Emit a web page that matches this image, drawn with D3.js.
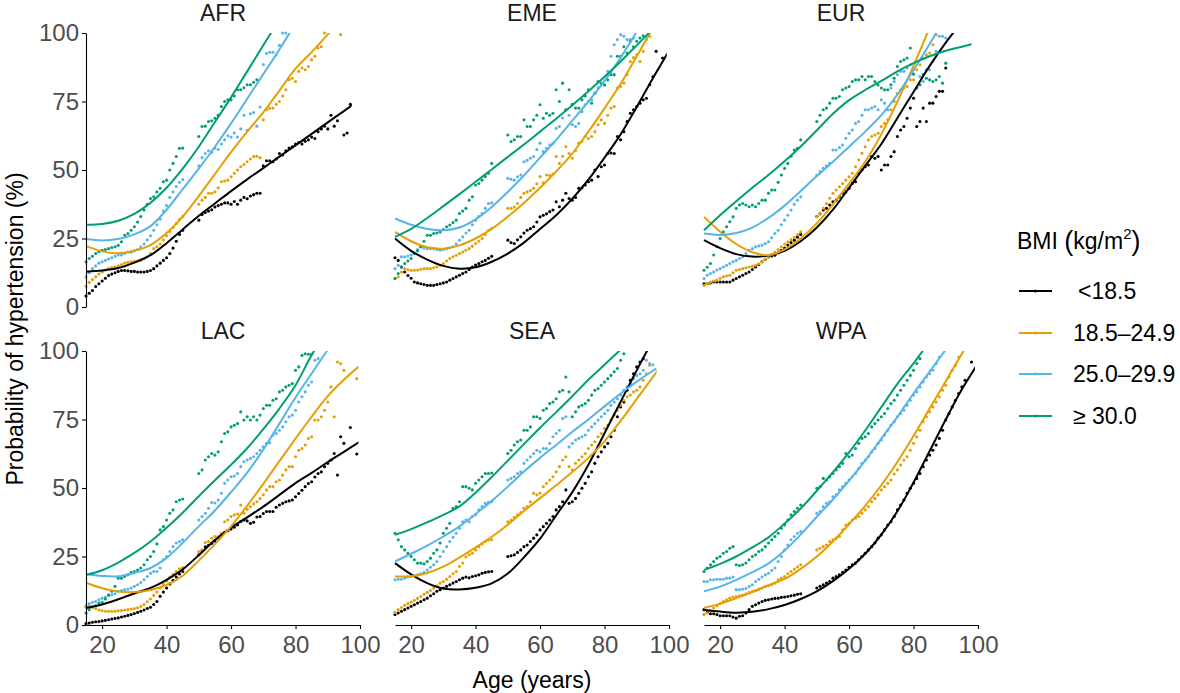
<!DOCTYPE html>
<html><head><meta charset="utf-8">
<script src="https://cdn.jsdelivr.net/npm/d3@7"></script>
<style>
body{margin:0;background:#fff}
svg text{font-family:"Liberation Sans",Arial,Helvetica,sans-serif}
</style>
</head><body>
<svg id="chart" width="1180" height="693"></svg>
<script>
const N = null;
const regions = ["AFR","EME","EUR","LAC","SEA","WPA"];
const bmiGroups = ["<18.5","18.5\u201324.9","25.0\u201329.9","\u2265 30.0"];
const colors = ["#000000","#E69F00","#56B4E9","#009E73"];
const yTicks = [0,25,50,75,100];
const xTicks = [20,40,60,80,100];
const ages = d3.range(15,100);          // dot ages 15..99
const fitAges = d3.range(15,101,5);     // fitted-curve knots

// ---------- AFR ----------
const afrDots0 = [4,5,6,7.5,8.5,9.5,10.5,11.5,12,12.5, 13,13.3,13.3,13.2,13,13,12.8,12.8,12.8,13, 13.3,14,15,16,17,18,19.5,21.5,24,26.5, 28,
 N,N,N,N,
 31.7,33.8,34.5,35,35.5,36.5,37,37.5,38,38, 37.5,38.5,37.5,39,40,39.5,40.5,41,41.5,41.5, 51.5,53.4,53.4,53,54,56,55.5,57,58,58.5, 59.5,60,59.5,60.5,61,62,61.5,64,65,66, 65,70,66,68,N,62.8,63.5,74,N,N];
const afrDots1 = [7.6,9,10,11,12,12.8,13.5,14,14.4,14.6, 15,15.5,16,16.3,16.5,16.7,16.8,17,17.5,18.3, 19.5,21.3,22,23,24.5,26,27.5,29,30.5,32, 33,
 N,N,N,N,
 37.5,39,40,41.5,41.5,42,43.5,45.7,46,46.3, 47.5,48.8,50,51.2,52,53,54,54.9,55,54.5, 68.3,72,72.5,72.6,74,75,77,79.3,83,83.5, 82.3,86,87.2,86.6,87.8,90.2,91.5,94.5,95,100, N,N,N,N,99.4,N,N,N,N,N];
const afrDots2 = [11,12.5,14,15,16,16.5,17,17.5,18,18.5, 19,19,19.5,20,20,20.5,21,22,23,24.5, 26,28,30,32,35,37,40,42,44,45.5, 46.5,
 N,N,N,N,
 51.5,54.5,56,57,56.5,58,57.5,59.5,61,62.5, 62,63.5,62,65,70,64.5,70.5,71,66,73, 88.5,92.5,93,93,92,95.5,100,100,N,N, N,N,N,N,N,N,N,N,N,N, N,N,N,N,N,N,N,N,N,N];
const afrDots3 = [16.5,17.7,18.5,19.5,20.2,20.7,21,21.3,21.7,22, 22.5,23.8,26.2,26.8,28,29.3,31,33,35.4,37.5, 39.6,40.2,42,43.3,45.7,46.3,50,52.4,54.9,57.9, 58,
 N,N,N,N,
 62.2,65.9,66,67.7,68,68.9,70,73.2,75,75.6, 75.6,77,79.3,79.3,80,81.1,81.1,82,82.9,N, N,N,N,N,N,N,N,N,N,N, N,N,N,N,N,N,N,N,N,N, N,N,N,N,N,N,N,N,N,N];
const afrFit0 = [12.9,13.3,14.2,16.2,18.9,23.3,28.3,33.3,37.8,42.3,46.6,50.7,54.9,59,63.2,67.4,71.5,75.7];
const afrFit1 = [22.2,20.3,19.6,20.5,22.6,27,33,40.5,48.5,56.5,64,71,79,87,93,99.5,106,N];
const afrFit2 = [24.8,24.3,24.8,26.5,29.5,35.5,43,50.5,58.5,67,76,85,94,103.5,N,N,N,N];
const afrFit3 = [30,30.3,31.5,34,38,43.5,50.5,58.5,67.5,76.5,86,95.5,105,N,N,N,N,N];
const afrFitEnd = [97.4,100,100,100];

// ---------- EME ----------
const emeDots0 = [18,17,14.6,12.8,11.5,10.5,9.1,8.8,8.5,8.2, 7.9,7.9,7.9,8.2,8.5,8.8,9.1,9.8,10.4,11, 11.6,12.2,12.8,13.7,14.6,15.3,15.9,16.5,17,17.8, 18.5,
 N,N,N,N,
 24.4,23.5,23.2,24.5,25.6,27,28,28.6,29.3,31, 32.9,33.5,34,34.8,35.4,38.4,36.6,39,41.5,39.6, 39,40,43.3,43.5,44.5,45.7,46.3,50,47.6,51.2, 51.8,56,56.2,56,62.2,61,64,67.7,70.7,72, 73.2,74.4,75.6,76.2,81.1,84,93.3,N,90.9,N];
const emeDots1 = [10.5,11,12.8,14,13.6,13.4,13.4,13.5,13.8,14, 14,14,14.3,14.6,15.2,15.9,16.8,17.7,18.3,18.9, 19.5,20.1,20.7,21.3,22.2,23.2,24,25,26.5,28, 28.7,
 N,N,N,N,
 36,36,36.5,37.8,40,41.5,42,42.5,43.3,45, 47.6,45.3,48.2,48,48.5,54.9,52.4,55,58.5,56, 54.3,57,59.8,60.5,62.2,61.5,62.2,64,66.5,68.3, 67,70,72.6,73.2,79.9,80.5,81.7,84.8,89.6,91, 92,89.6,93.3,97.6,98.8,N,N,N,N,N];
const emeDots2 = [14,15.2,18.3,18.3,18.6,19,19.5,21,22,21.5, 21.3,21.3,21.3,21,20.7,21,21.3,21.6,22,23, 24.4,25.6,27,28,30,31.7,33,34.1,36,37.8, 38,
 N,N,N,N,
 47,46.6,46.3,47.5,48.2,53,53.5,54.3,54.9,57.5, 59.8,56.7,57.9,59.1,59.8,65.2,65.9,69,72,70, 66.5,65.9,67,71.3,73.8,75,75.6,78,80,81.7, 81,86,91.5,95.7,97.6,99.4,98.8,97.6,97.6,98.2, N,N,N,N,N,N,N,N,N,N];
const emeDots3 = [10.4,12.2,14.6,15.9,16.8,17.7,19.5,20.5,22,24, 26.2,26.2,26.8,27,27.4,28.3,29.3,29.9,30.8,31.7, 34.1,35,36,39,40.2,44.5,45.1,46.3,47.6,48.8, 52.4,
 N,N,N,N,
 62.8,60.4,61,62.2,62.2,68.3,65.9,65.9,68.3,70, 73.8,68.9,70.7,70,70.7,79.3,75,81.7,72,79.3, 74,72.6,72.6,75.6,77,79.3,74.4,78,82.3,81.5, 81,82.9,84.8,84.8,91.5,91.5,95,92.7,97,95, 97,98.2,99,N,N,N,N,N,N,N];
const emeFit0 = [25,20.5,17.3,15,14,14.5,16.5,19.5,23.5,28.5,33.5,39.5,46.5,54.5,63,73,83.5,93.5];
const emeFit1 = [27.4,24,21.8,21.3,22.5,25,28.5,33,38,43.5,49.5,56,64,72.5,81.5,91.5,102,N];
const emeFit2 = [32.3,30,28.5,28,29,32,36.5,42,48,54.5,61,68,75,82.5,91,100.5,N,N];
const emeFit3 = [25.6,28.5,32.5,36.8,41.2,45.7,50.2,54.8,59.3,64,68.7,73.6,78.7,84,89.6,95.5,101.5,N];
const emeFitEnd = [99.3,100,100,100];

// ---------- EUR ----------
const eurDots0 = [8.5,8.5,8.8,9.1,9.1,9.1,9.1,9.1,9.1,9.8, 10.4,11,11.6,12.2,12.8,13.7,14.6,15.5,16.5,17.4, 18.3,18.6,18.9,19.8,20.7,21.5,22.6,23.5,24.4,25.5, 26.5,
 N,N,N,N,
 33,34,35.4,36,37.2,38.4,39,40.2,41.5,42, 43.3,45.1,45.7,48.8,50,51.2,51.8,54.9,54.3,54.9, 50,51.8,51.8,54.9,56.7,62.2,64.6,65.9,68.9,72.6, 76.2,65.9,67.7,72.6,67.7,74.4,74.4,76.8,78.7,78.7, 87.2,N,N,N,N,N,N,N,N,N];
const eurDots1 = [7.9,8.5,9,9.5,9.8,10.5,11,11.3,11.6,12.5, 13.4,13.7,14,14.3,14.6,14.9,15.2,15.8,16.5,17.4, 18.3,19.2,20.1,21,22,23,23.8,24.6,25.4,26.4, 27.4,
 N,N,N,N,
 33,34,36,37.8,39.7,41.5,42.7,43.9,45.1,46.3, 47.5,48.8,51.2,53.7,56.1,58.5,61,62.2,62.8,63.4, 65.9,67,68.3,72,75,78,79.3,80,80.5,82.9, 82.9,86.6,88.4,90.9,92,92.7,95.7,99.4,N,N, N,N,N,N,N,N,N,N,N,N];
const eurDots2 = [10.4,11.6,12.2,12.8,13.5,14,14.6,15.2,15.9,16.5, 17,17.7,18.3,19.5,20.7,21.3,22,22.3,22.6,23.2, 23.8,25.3,26.8,28,30,31.7,33.5,35.4,37.5,39, 40.2,
 N,N,N,N,
 48.2,49.4,50.6,51.5,52.4,57.3,57.3,58.2,59.1,61.6, 63.4,64.6,67,67.7,70,72,72,72.6,73.2,72, 75.6,74.4,72,79.9,82.3,84.8,86,86,87.2,88.4, 85,79.9,84.1,82.3,86.6,86.6,89.6,93.3,98.8,98.8, 98.2,N,N,N,N,N,N,N,N,N];
const eurDots3 = [13.4,14.5,15.9,19,22,25,27.4,29.3,31.1,32.9, 36,37.2,37.8,37.2,36.6,37.2,36.6,37.8,39,39, 41.5,42.7,42.7,45.5,48.2,50.6,52.4,55,57.3,57.9, 61,
 N,N,N,N,
 67.7,70,72,72.6,74.4,76.2,76.2,76.8,79.3,79.9, 80.5,82.3,82.9,82.9,84.1,82.9,84.1,84.1,82.3,81, 79.9,79.3,79.3,81.1,83.5,87.8,89.6,90.2,90.9,94.5, 85,79.9,81.1,84.8,83.5,82.9,82.3,82.9,84.1,81.7, 89,N,N,N,N,N,N,N,N,N];
const eurFit0 = [24.4,21.5,19.3,18.4,18.8,20.5,24,29,35.5,43.5,51.5,59.5,69,78.5,88,96.5,104,N];
const eurFit1 = [32.9,27.5,23,20,18.9,21,25,30.5,37.5,45,53,63,75,88,102,N,N,N];
const eurFit2 = [26.8,26.3,27,29,32.5,37,42.3,47.8,53,58.5,64,70,77.5,86.5,96,106,N,N];
const eurFit3 = [28,33.5,38.6,43.5,48.2,53.2,58.6,64.5,70.5,75.5,79.2,82.5,86,89,91.5,93.5,95,96.5];
const eurFitEnd = [100,100,100,98];

// ---------- LAC ----------
const lacDots0 = [0.5,0.7,1,1.2,1.3,1.5,1.7,1.9,2.2,2.4, 2.6,2.9,3.2,3.5,3.8,4.2,4.6,5,5.5,6, 6.5,7.5,8.6,10.5,12,13.5,15,16.3,17.5,18.6, 19.5,
 N,N,N,N,
 25.6,27.2,28.5,29.1,29.8,30.7,31.8,32.9,33.8,34.4, 35,35.7,36.5,37.8,38.3,38,37.1,37.5,39.4,39.6, 40.7,41.4,41.4,41.4,43,43.8,44.4,45,45.3,45.6, 46.8,48,49.2,50.5,51.6,52.3,54,55.3,55.9,57.8, 59,60.2,62.6,54.7,68.7,66.3,N,72.1,N,62.4];
const lacDots1 = [6.5,6.8,6.5,6,5.5,5.2,5,5,5,5, 5.2,5.3,5.5,5.6,5.8,6,6.3,6.8,7.5,8.5, 9.5,10.8,12,13.5,15,16,17.5,18.5,19.5,20.5, 21,
 N,N,N,N,
 26.8,27.4,30.1,30.5,31.7,32.3,32.3,33.5,37.7,38.3, 39.6,40.2,40.5,43.8,40.8,42.2,43.2,44.2,45,46.2, 47.5,49.3,50.5,50.5,52.3,52.9,54.7,56.6,57.8,57.8, 61.4,63.8,64.4,65.7,68.1,68.7,74.8,74.8,76,78.4, 81.4,86.9,76,96,95.4,93,N,N,N,89.9];
const lacDots2 = [7,7.8,8.3,8.6,9.2,9.8,10.2,10.7,11,11.4, 12.3,12.6,12.9,13.1,13.5,14.1,14.7,15.5,16.5,17.7, 18.9,19.5,19.5,20.8,23.8,25,26.8,28.6,29.9,30.5, 31.1,
 N,N,N,N,
 38.3,39.6,40.8,42.6,44.7,44.5,45.6,48.1,51.7,52.9, 54.1,54.4,55.3,57.8,59.6,60.2,60.8,61.4,62.6,63.8, 65,66.3,66.5,69.3,69.9,71.1,72.3,74.2,76,76.6, 78.4,81.4,83.3,85.1,87.5,88.7,96.6,97.2,N,N, N,N,N,N,N,N,N,N,N,N];
const lacDots3 = [4.4,5.6,6.6,7,8,8.3,9.5,11,12.3,14.1, 17.1,17.1,17.7,18.3,19.2,19.5,20.1,20.8,22,23.8, 25,26.8,29.6,34.7,35.9,38.3,40.8,42,45,45.6, 46,
 N,N,N,N,
 55.3,56.6,60.2,61.4,62.6,62,63.2,66.9,69.9,70.5, 72.3,72.9,73.5,77.8,74.8,76,74.8,76,74.8,76.6, 79,80.2,80.2,82,82.6,85.1,85.7,86.9,87.5,88.1, 93,94.2,98.4,99,98.8,98.8,N,N,N,N, N,N,N,N,N,N,N,N,N,N];
const lacFit0 = [6.2,7.5,9.4,11.5,13.5,16.5,20.3,25.5,31,35.5,39.3,43.2,47.5,51.8,55.5,59.5,63.2,67];
const lacFit1 = [15.4,13.4,12.2,12,12.8,14.6,18,23.5,29.5,36,43.5,51.5,59.8,68,76,83.5,89.5,94.7];
const lacFit2 = [18.5,17.9,17.8,19,20.8,24.5,30,36,41.8,48.5,55.6,64,73.5,83,91.8,100.5,N,N];
const lacFit3 = [18.3,20,22.8,26.3,30.5,35.5,41,47,52.8,58.5,64.5,71.5,79,87.5,98.5,108,N,N];
const lacFitEnd = [99.5,99.5,100,100];

// ---------- SEA ----------
const seaDots0 = [3.8,4.4,5,5.6,6.2,6.8,7.4,8,8.6,9.2, 9.8,10.7,11.4,12.3,12.9,13.5,14.1,14.7,15.3,15.9, 16.5,17.1,17.5,17.2,17.7,18,18.3,18.9,19.2,19.4, 19.5,
 N,N,N,N,
 25,25.3,25.6,26.5,27.4,28.6,29.2,30.5,31.7,32.9, 34.7,35.9,37.1,38.3,39.6,42,43.2,45,49.3,44.4, 45,46.2,48.1,49.9,51.7,54.1,55.9,59,61.4,63.2, 65,66.3,68.7,71.1,76,79.6,81.4,85.7,89.3,91.7, 94.2,96,97.2,N,N,N,N,N,N,N];
const seaDots1 = [4.6,5.6,6.4,7.2,7.8,8.4,9,9.7,10.4,11.2, 11.9,12.6,13.5,14.3,15.3,15.9,16.7,17.7,18.7,19.5, 21.4,22.6,24.8,25.6,26.2,27.4,28.6,29.6,30.5,31, 31.1,
 N,N,N,N,
 37.7,38.3,39.3,40.2,41,42.6,43.2,45,48.1,47.5, 48.1,50.5,51.7,52.9,54.1,55.9,57.8,60.2,61.4,57.8, 56.6,59,60.2,61.4,62.6,64.4,65.7,66.9,68.7,69.9, 71.7,72.9,74.8,76.6,78.4,80.2,82,83.3,83.9,85.1, 85.7,86.9,89.3,91.7,94.8,N,N,N,N,N];
const seaDots2 = [16.5,16.7,16.7,17.1,17.5,17.7,18,18.3,18.7,19.2, 20.1,21.1,22,23.2,25,26.8,28.6,30.5,32,33.5, 35.3,37.7,38.3,37.7,39.6,40.2,42,43.2,44.4,44.8, 45,
 N,N,N,N,
 52.9,53.5,54.1,55.3,55.9,59,60.2,61.4,62.6,63.8, 63.2,64.4,64.4,66.3,68.7,69.9,71.1,75.4,76,65, 66.3,67.5,68.1,68.7,69.3,71.1,72.3,73.5,74.8,76, 77.2,78.4,80.2,81.4,82.6,83.9,85.7,86.9,88.1,89.9, 91.1,91.7,93,96.6,95.4,95,N,N,N,N];
const seaDots3 = [33.5,31.1,28.6,27.4,26.2,25,23.8,22.6,22.6,22.3, 23.2,24.4,26.2,27.4,29.9,33.5,35.3,37.1,42.6,43.2, 45,50.5,50.5,49.9,49.3,51.7,52.9,54.1,55.3,55.3, 55.5,
 N,N,N,N,
 62.6,63.8,65.7,66.9,67.5,71.1,71.1,72.3,76,76, 75.4,78.4,79,80.8,81.4,82.6,85.1,85.7,90.5,85.1, 76,77.8,79.6,80.2,80.8,82,83.9,85.7,86.3,87.5, 88.7,89.9,91.1,92.4,93.6,96.6,99,N,N,N, N,N,N,N,N,N,N,N,N,N];
const seaFit0 = [22.6,18.5,15.3,13.3,13,13.6,15.2,18.8,24.7,31.5,40,48.5,58.5,70,81.5,93,104,N];
const seaFit1 = [17.7,17.8,19,21.3,24.6,28.3,32.2,36.6,41.6,46.3,51,55.8,61,67,74.5,82.5,90.5,98.5];
const seaFit2 = [23.2,26,29,32.3,36,40.5,45.3,50.5,56,61,65.7,70.5,75,79.8,84.5,88.8,92.8,96.5];
const seaFit3 = [32.9,35,37.5,40.2,43.3,48.3,54,60,66,72,77.7,83.5,89.5,95,100.5,N,N,N];
const seaFitEnd = [100,96.2,96.1,100];

// ---------- WPA ----------
const wpaDots0 = [5.6,4.6,4.1,4.1,3.8,3.4,3.4,3.4,3.4,2.9, 2.5,3.2,3.4,4.4,5.6,6.8,7.4,8,8.6,9, 9.2,9.5,9.7,9.8,10.1,10.2,10.4,10.7,10.9,11.2, 11.4,
 N,N,N,N,
 13.5,14.1,14.7,15.3,15.9,17.1,17.7,18.3,19.2,20.1, 21.1,22,22.6,23.8,25,26.2,27.4,28.6,29.9,31.7, 32.9,34.7,36.5,37.7,39.6,42,43.8,45.6,48.1,49.9, 51.7,53.5,55.3,57.8,60.2,62,63.8,65.7,68.1,71.1, 74.8,77.2,79.6,82,84.5,86.9,89.3,N,96,N];
const wpaDots1 = [3.8,4.4,5.3,6.2,7,7.8,8.6,9.2,9.8,10.2, 10.4,10.7,10.9,11.4,11.9,12.3,12.6,13.1,13.5,14.1, 14.3,14.7,15.3,16.5,17.1,17.7,18.7,19.5,20.4,21.2, 22,
 N,N,N,N,
 27.4,28,28.6,29.2,30.5,31.1,31.7,32.3,34.7,36.5, 37.1,38.3,39,39.6,40.8,42,43.2,45,46.2,47.5, 49.3,50.5,51.7,52.9,55.1,56.6,58.4,60.2,61.4,63.8, 66.3,68.7,71.1,74.2,76,77.8,79.6,81.4,83.3,85.7, 87.5,90.5,93,94.8,97.8,N,N,N,N,N];
const wpaDots2 = [15.9,15.9,16.5,16.5,16.7,16.7,16.7,17.1,17.1,17.5, 12.9,12.9,13.1,13.3,14.1,14.7,15.9,16.7,17.5,18.3, 18.9,19.9,20.8,23.2,25,27.4,29.2,31.1,32.3,33.5, 34.1,
 N,N,N,N,
 40.8,41.4,43.2,44.4,45,46.8,47.5,49.3,50.5,51.7, 52.9,54.1,55.3,57.2,59,60.2,61.4,63.2,64.4,66.3, 67.5,69.3,71.1,72.9,74.2,76,77.2,78.4,80.2,82, 83.9,85.1,86.9,88.7,90.5,91.7,93,95.4,97.8,N, N,N,N,N,N,N,N,N,N,N];
const wpaDots3 = [19.5,20.8,22,23.2,24.4,25,26.2,26.8,28,28.6, 22,21.7,22,22.6,23.8,25,25.6,26.8,27.4,28.6, 29.9,31.1,32.3,33.5,35.3,36.5,38.3,40.2,41.4,42.6, 43.8,
 N,N,N,N,
 49.9,50.5,53.5,52.9,54.1,55.3,56.6,57.8,59,62.6, 61.4,62,64.4,66.3,68.1,68.7,69.9,72.3,73.5,74.8, 76,77.2,79,80.8,82,83.9,85.7,87.5,89.3,91.1, 93,95.4,97.2,N,N,N,N,N,N,N, N,N,N,N,N,N,N,N,N,N];
const wpaFit0 = [5.6,4.9,4.5,4.8,5.8,7.3,9.5,12.3,16,20.5,26,33,41.5,52,63.5,75,86,95.5];
const wpaFit1 = [6.2,7.8,9.8,12,14.5,16.8,20.5,25,30.5,36.8,43.5,51,59.5,69,79,89,99,109];
const wpaFit2 = [12.3,14,16.5,19.3,22.5,27.2,33,39.5,45.8,52.7,60,68,76,84.5,92.5,100.5,N,N];
const wpaFit3 = [20.1,22.3,25,28.3,32,37,42.5,49,55.8,63,71,79.5,88,95.5,103.5,N,N,N];
const wpaFitEnd = [99.1,100,100,100];

const panels = {
  AFR:{dots:[afrDots0,afrDots1,afrDots2,afrDots3], fits:[afrFit0,afrFit1,afrFit2,afrFit3], ends:afrFitEnd},
  EME:{dots:[emeDots0,emeDots1,emeDots2,emeDots3], fits:[emeFit0,emeFit1,emeFit2,emeFit3], ends:emeFitEnd},
  EUR:{dots:[eurDots0,eurDots1,eurDots2,eurDots3], fits:[eurFit0,eurFit1,eurFit2,eurFit3], ends:eurFitEnd},
  LAC:{dots:[lacDots0,lacDots1,lacDots2,lacDots3], fits:[lacFit0,lacFit1,lacFit2,lacFit3], ends:lacFitEnd},
  SEA:{dots:[seaDots0,seaDots1,seaDots2,seaDots3], fits:[seaFit0,seaFit1,seaFit2,seaFit3], ends:seaFitEnd},
  WPA:{dots:[wpaDots0,wpaDots1,wpaDots2,wpaDots3], fits:[wpaFit0,wpaFit1,wpaFit2,wpaFit3], ends:wpaFitEnd}
};

// ---------- layout ----------
const W = 1180, H = 693;
const colX = [86,395,704], rowY = [33,351];
const pw = 274, ph = 274;
const FONT = '"Liberation Sans",Arial,Helvetica,sans-serif';
const x = d3.scaleLinear().domain([15,100]).range([0,pw]);
const y = d3.scaleLinear().domain([0,100]).range([ph,0]);

const svg = d3.select('#chart');
svg.append('rect').attr('width',W).attr('height',H).attr('fill','#fff');
const defs = svg.append('defs');

const line = d3.line().defined(d=>d[1]!=null).x(d=>x(d[0])).y(d=>y(d[1])).curve(d3.curveCatmullRom.alpha(0.5));

regions.forEach((reg,i)=>{
  const col = i%3, row = Math.floor(i/3);
  const g = svg.append('g').attr('transform',`translate(${colX[col]},${rowY[row]})`);
  const pd = panels[reg];

  g.append('text').attr('x',pw/2).attr('y',-12).attr('text-anchor','middle')
    .attr('font-size',23).attr('fill','#1a1a1a').text(reg);

  // points
  pd.dots.forEach((arr,k)=>{
    const pts = arr.map((v,j)=>({age:ages[j], v})).filter(d=>d.v!=null && d.v<=100);
    g.append('g').selectAll('circle').data(pts).join('circle')
      .attr('cx',d=>x(d.age)).attr('cy',d=>y(d.v)).attr('r',1.55).attr('fill',colors[k]);
  });

  // fitted curves (clip in the group's local coordinates)
  pd.fits.forEach((arr,k)=>{
    const id = `clip-${i}-${k}`;
    defs.append('clipPath').attr('id',id).append('rect')
      .attr('x',-2).attr('y',0).attr('width',x(pd.ends[k])+2).attr('height',ph);
    const pts = arr.map((v,j)=>[fitAges[j],v]).filter(d=>d[1]!=null);
    g.append('g').attr('clip-path',`url(#${id})`).append('path')
      .attr('d',line(pts)).attr('fill','none').attr('stroke',colors[k]).attr('stroke-width',2);
  });

  if(col===0){
    const ay = g.append('g').call(d3.axisLeft(y).tickValues(yTicks).tickSize(4).tickSizeOuter(0).tickPadding(3));
    ay.attr('font-size',24).attr('font-family',FONT);
    ay.selectAll('text').attr('fill','#4d4d4d');
    ay.selectAll('path,line').attr('stroke','#000').attr('stroke-width',1.1);
  }
  if(row===1){
    const ax = g.append('g').attr('transform',`translate(0,${ph})`)
      .call(d3.axisBottom(x).tickValues(xTicks).tickSize(4).tickSizeOuter(0).tickPadding(7));
    ax.attr('font-size',24).attr('font-family',FONT);
    ax.selectAll('text').attr('fill','#4d4d4d');
    ax.selectAll('path,line').attr('stroke','#000').attr('stroke-width',1.1);
  }
});

// axis titles
svg.append('text').attr('transform','translate(23,329) rotate(-90)').attr('text-anchor','middle')
  .attr('font-size',23).attr('fill','#000').text('Probability of hypertension (%)');
svg.append('text').attr('x',532).attr('y',688).attr('text-anchor','middle')
  .attr('font-size',23).attr('fill','#000').text('Age (years)');

// legend
const lg = svg.append('g');
const lt = lg.append('text').attr('x',1017).attr('y',249).attr('font-size',23).attr('fill','#000');
lt.append('tspan').text('BMI ');
lt.append('tspan').attr('font-size',27).attr('dy',1).text('(');
lt.append('tspan').attr('font-size',23).attr('dy',-1).text('kg/m');
lt.append('tspan').attr('font-size',15).attr('dy',-10).text('2');
lt.append('tspan').attr('font-size',27).attr('dy',11).text(')');
const legY = [291,333,374,416];
bmiGroups.forEach((lab,k)=>{
  lg.append('line').attr('x1',1019).attr('x2',1052).attr('y1',legY[k]).attr('y2',legY[k])
    .attr('stroke',colors[k]).attr('stroke-width',2);
  lg.append('circle').attr('cx',1035.5).attr('cy',legY[k]).attr('r',1.6).attr('fill',colors[k]);
  lg.append('text').attr('x',k===0?1078:1073).attr('y',legY[k]+8).attr('font-size',23).attr('fill','#000').text(lab);
});
</script>
</body></html>
